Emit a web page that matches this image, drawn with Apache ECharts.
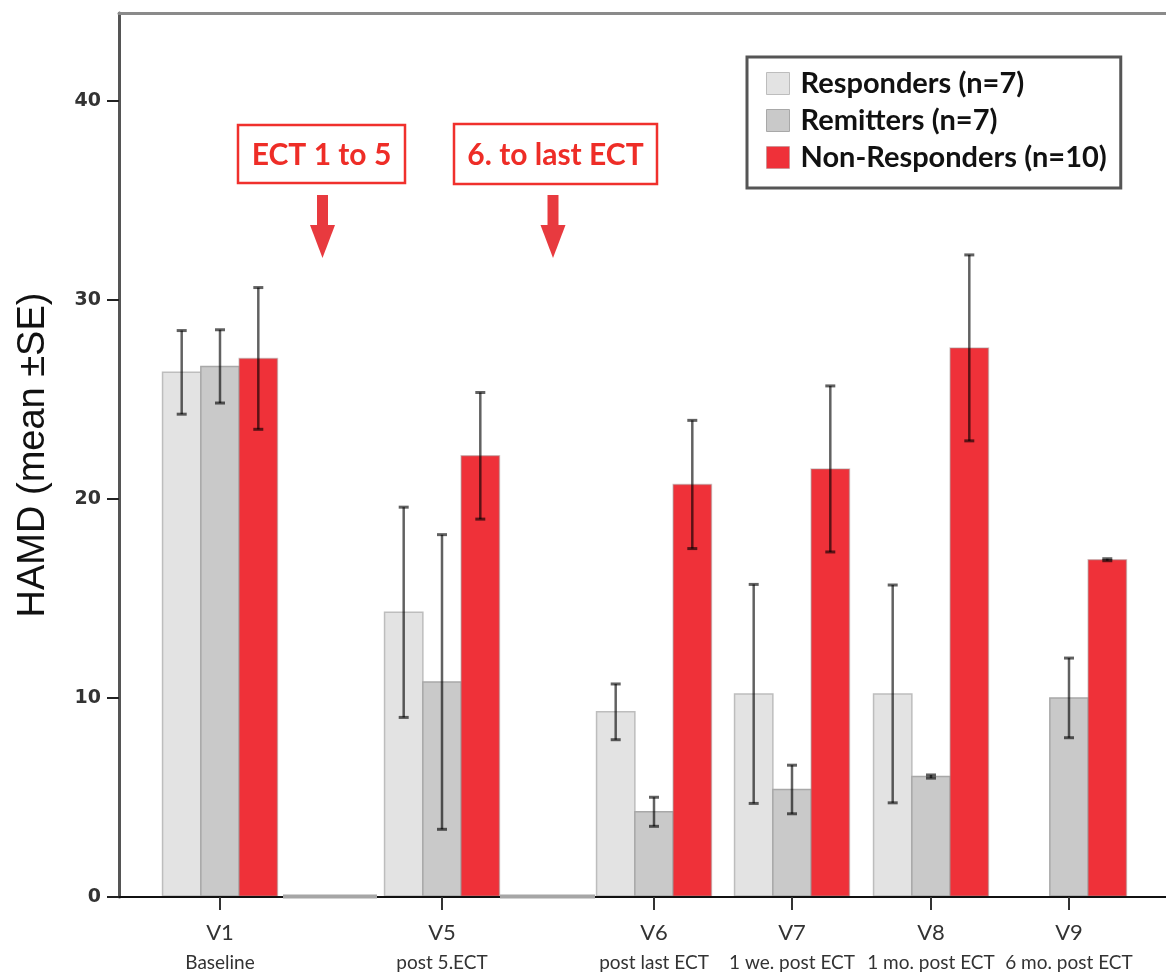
<!DOCTYPE html>
<html><head><meta charset="utf-8">
<script src="https://cdn.jsdelivr.net/npm/echarts@6/dist/echarts.min.js"></script>
<style>html,body{margin:0;padding:0;background:#fff}#c{width:1166px;height:977px}</style>
</head><body><div id="c"></div>
<script>
// ---- data ----
const visits = ['V1', 'V5', 'V6', 'V7', 'V8', 'V9'];
const visitSub = ['Baseline', 'post 5.ECT', 'post last ECT', '1 we. post ECT', '1 mo. post ECT', '6 mo. post ECT'];
const groups = ['Responders (n=7)', 'Remitters (n=7)', 'Non-Responders (n=10)'];
const respMean = [26.35, 14.3, 9.3, 10.2, 10.2, null];
const respSE   = [2.1, 5.28, 1.4, 5.5, 5.47, null];
const remMean  = [26.65, 10.8, 4.28, 5.4, 6.05, 10.0];
const remSE    = [1.84, 7.4, 0.73, 1.22, 0.08, 2.0];
const nonMean  = [27.05, 22.16, 20.72, 21.5, 27.58, 16.94];
const nonSE    = [3.56, 3.18, 3.22, 4.17, 4.67, 0.05];
const yTicks = [0, 10, 20, 30, 40];
const periods = ['ECT 1 to 5', '6. to last ECT'];

// ---- layout (axis units) ----
const slotCenter = [101, 323, 535, 673, 812, 950];
const periodSpan = [[164, 258], [381, 476]];
const BAR = 38.3;
const colors = ['#e3e3e3', '#c9c9c9', '#ef3139'];
const borders = ['#bdbdbd', '#a8a8a8', 'rgba(160,140,140,0.45)'];
const means = [respMean, remMean, nonMean];
const ses = [respSE, remSE, nonSE];

function makeRender(si) {
  return function (params, api) {
    const x = api.value(0), m = api.value(1), se = api.value(2);
    const cx = x + (si - 1) * BAR;
    const p0 = api.coord([cx - BAR / 2, 0]);
    const p1 = api.coord([cx + BAR / 2, m]);
    const children = [{
      type: 'rect',
      shape: { x: p0[0], y: p1[1], width: p1[0] - p0[0], height: p0[1] - p1[1] - 1 },
      style: { fill: colors[si], stroke: borders[si], lineWidth: 1.5 }
    }];
    const t = api.coord([cx, m + se]), b = api.coord([cx, m - se]);
    const hw = 5;
    const ec = 'rgba(0,0,0,0.62)';
    children.push({ type: 'line', shape: { x1: t[0], y1: t[1], x2: b[0], y2: b[1] }, style: { stroke: ec, lineWidth: 2.5 } });
    children.push({ type: 'line', shape: { x1: t[0] - hw, y1: t[1], x2: t[0] + hw, y2: t[1] }, style: { stroke: ec, lineWidth: 3 } });
    children.push({ type: 'line', shape: { x1: b[0] - hw, y1: b[1], x2: b[0] + hw, y2: b[1] }, style: { stroke: ec, lineWidth: 3 } });
    return { type: 'group', children };
  };
}

const barSeries = groups.map((g, si) => ({
  name: g,
  type: 'custom',
  renderItem: makeRender(si),
  itemStyle: { color: colors[si] },
  encode: { x: 0, y: 1 },
  z: 2,
  data: slotCenter.map((x, i) => means[si][i] == null ? null : [x, means[si][i], ses[si][i]]).filter(d => d)
}));

const periodSeries = {
  name: 'periods',
  type: 'custom',
  silent: true,
  z: 6,
  encode: { x: [0, 1], y: 2 },
  data: periodSpan.map(s => [s[0], s[1], 0]),
  renderItem: function (params, api) {
    const a = api.coord([api.value(0), 0]), b = api.coord([api.value(1), 0]);
    return { type: 'line', shape: { x1: a[0], y1: a[1] - 0.5, x2: b[0], y2: b[1] - 0.5 }, style: { stroke: '#a6a6a6', lineWidth: 4 } };
  }
};

const red = '#ee2d27';
function arrow(cx) {
  return [
    { type: 'rect', shape: { x: cx - 5.5, y: 195, width: 11, height: 31 }, style: { fill: '#e83a3f' } },
    { type: 'polygon', shape: { points: [[cx - 12.5, 225], [cx + 12.5, 225], [cx, 258]] }, style: { fill: '#e83a3f' } }
  ];
}

const chart = echarts.init(document.getElementById('c'));
chart.setOption({
  animation: false,
  backgroundColor: '#fff',
  grid: { left: 119, top: 13, right: 0, height: 884, show: false },
  legend: {
    orient: 'vertical', left: 747, top: 57,
    padding: [12, 14, 16, 19],
    borderColor: '#555', borderWidth: 3, backgroundColor: '#fff',
    itemWidth: 23, itemHeight: 22, itemGap: 8,
    textStyle: { fontFamily: 'Lato', fontWeight: 'bold', fontSize: 29, color: '#111', padding: [0, 0, 0, 6] },
    data: groups.map((g, i) => ({ name: g, icon: 'rect', itemStyle: { color: colors[i], borderColor: borders[i], borderWidth: 1 } }))
  },
  xAxis: [{
    type: 'value', min: 0, max: 1047, z: 3,
    splitLine: { show: false },
    axisLine: { show: true, lineStyle: { color: '#111', width: 2 } },
    axisTick: { show: true, customValues: slotCenter, length: 13, lineStyle: { color: '#333', width: 2 } },
    axisLabel: {
      customValues: slotCenter, margin: 21,
      formatter: function (v) { const i = slotCenter.indexOf(v); return '{a|' + visits[i] + '}\n{b|' + visitSub[i] + '}'; },
      rich: {
        a: { fontFamily: 'Lato', fontSize: 22, color: '#333', lineHeight: 30, align: 'center' },
        b: { fontFamily: 'Lato', fontSize: 19, color: '#333', lineHeight: 30, align: 'center' }
      }
    }
  }, {
    type: 'value', position: 'top', min: 0, max: 1047, z: 3,
    splitLine: { show: false }, axisTick: { show: false }, axisLabel: { show: false },
    axisLine: { show: true, lineStyle: { color: '#8a8a8a', width: 3 } }
  }],
  yAxis: {
    type: 'value', min: 0, max: 44.4, z: 3,
    splitLine: { show: false },
    axisLine: { show: true, lineStyle: { color: '#555', width: 3 } },
    axisTick: { show: true, customValues: yTicks, length: 12, lineStyle: { color: '#222', width: 2 } },
    axisLabel: { customValues: yTicks, fontFamily: 'DejaVu Sans', fontWeight: 'bold', fontSize: 19, color: '#333', margin: 18 },
    name: 'HAMD (mean ±SE)', nameLocation: 'middle', nameGap: 66,
    nameTextStyle: { fontFamily: 'Liberation Sans', fontSize: 38, color: '#111' }
  },
  graphic: [
    { type: 'rect', shape: { x: 238, y: 125, width: 167, height: 58 }, style: { fill: '#fff', stroke: '#f0302c', lineWidth: 2.5 } },
    { type: 'text', x: 321.5, y: 155, style: { text: periods[0], fill: red, font: 'bold 30px Lato', align: 'center', verticalAlign: 'middle' } },
    { type: 'rect', shape: { x: 454, y: 124, width: 203, height: 60 }, style: { fill: '#fff', stroke: '#f0302c', lineWidth: 2.5 } },
    { type: 'text', x: 555.5, y: 155, style: { text: periods[1], fill: red, font: 'bold 30px Lato', align: 'center', verticalAlign: 'middle' } },
    ...arrow(322.5), ...arrow(553)
  ],
  series: [...barSeries, periodSeries]
});
</script></body></html>
